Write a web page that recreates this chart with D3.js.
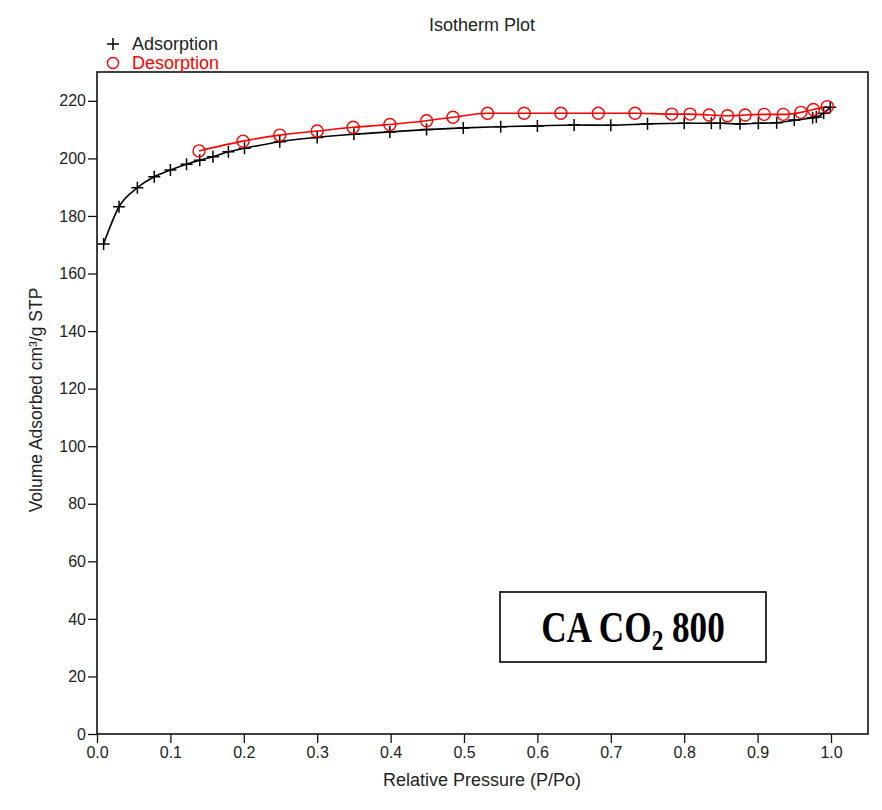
<!DOCTYPE html>
<html>
<head>
<meta charset="utf-8">
<script src="https://cdn.jsdelivr.net/npm/d3@7"></script>
<style>
  body { margin: 0; background: #fff; }
  text { font-family: "Liberation Sans", Arial, sans-serif; }
</style>
</head>
<body>
<div id="container"></div>
<script>
// Adsorption branch (P/Po, volume)
const adsP = [0.009, 0.030, 0.055, 0.078, 0.100, 0.122, 0.140, 0.158, 0.179, 0.201,
              0.249, 0.300, 0.350, 0.399, 0.449, 0.499, 0.550, 0.600, 0.650, 0.700,
              0.750, 0.800, 0.837, 0.849, 0.876, 0.901, 0.926, 0.950, 0.975, 0.980,
              0.990, 0.999];
const adsV = [170.3, 183.2, 189.8, 193.6, 196.0, 198.0, 199.4, 200.6, 202.3, 203.5,
              205.8, 207.3, 208.4, 209.2, 210.0, 210.6, 211.0, 211.3, 211.6, 211.5,
              212.0, 212.2, 212.2, 212.2, 212.0, 212.2, 212.4, 213.3, 214.1, 214.4,
              215.7, 217.8];
// Desorption branch
const desP = [0.995, 0.976, 0.959, 0.935, 0.909, 0.883, 0.859, 0.834, 0.808, 0.783,
              0.733, 0.683, 0.632, 0.582, 0.532, 0.485, 0.449, 0.399, 0.349, 0.300,
              0.249, 0.199, 0.139];
const desV = [218.0, 217.0, 216.0, 215.3, 215.3, 215.1, 214.8, 215.1, 215.4, 215.4,
              215.7, 215.7, 215.7, 215.7, 215.7, 214.3, 213.1, 211.8, 210.8, 209.5,
              208.1, 206.0, 202.6];
const xTicks = [0, 0.1, 0.2, 0.3, 0.4, 0.5, 0.6, 0.7, 0.8, 0.9, 1.0];
const yTicks = [0, 20, 40, 60, 80, 100, 120, 140, 160, 180, 200, 220];

const w = 882, h = 810;
const plotLeft = 97, plotRight = 868, plotTop = 72, plotBottom = 734;

const svg = d3.select("#container").append("svg")
  .attr("width", w).attr("height", h);

//SCALES
const xScale = d3.scaleLinear().domain([0, 1.05]).range([plotLeft, plotLeft + 734 * 1.05]);
const yScale = d3.scaleLinear().domain([0, 230]).range([plotBottom, plotBottom - 230 * 2.878]);

//AXES
const xAxis = svg.append("g")
  .attr("transform", `translate(0, ${plotBottom})`)
  .call(d3.axisBottom(xScale).tickValues(xTicks).tickFormat(d3.format(".1f")).tickSize(9).tickPadding(4));
const yAxis = svg.append("g")
  .attr("transform", `translate(${plotLeft}, 0)`)
  .call(d3.axisLeft(yScale).tickValues(yTicks).tickSize(9).tickPadding(2));

[xAxis, yAxis].forEach(a => {
  a.select(".domain").remove();
  a.selectAll("line").attr("stroke", "#111").attr("stroke-width", 1.3);
  a.selectAll("text").attr("font-size", 16).attr("fill", "#222")
   .style("font-family", "'Liberation Sans', Arial, sans-serif");
});

//FRAME
svg.append("rect")
  .attr("x", plotLeft).attr("y", plotTop)
  .attr("width", plotRight - plotLeft).attr("height", plotBottom - plotTop)
  .attr("fill", "none").attr("stroke", "#111").attr("stroke-width", 1.6);

//LINES
const ads = adsP.map((p, i) => [p, adsV[i]]);
const des = desP.map((p, i) => [p, desV[i]]);
const line = d3.line().x(d => xScale(d[0])).y(d => yScale(d[1])).curve(d3.curveMonotoneX);

svg.append("path").datum(ads).attr("d", line)
  .attr("fill", "none").attr("stroke", "#000").attr("stroke-width", 1.6);
svg.append("path").datum(des.slice().sort((a, b) => a[0] - b[0])).attr("d", line)
  .attr("fill", "none").attr("stroke", "#ff0000").attr("stroke-width", 1.6);

//MARKERS
const s = 6;
svg.append("g").selectAll("path").data(ads).enter().append("path")
  .attr("d", d => {
    const cx = xScale(d[0]), cy = yScale(d[1]);
    return `M${cx - s},${cy}H${cx + s}M${cx},${cy - s}V${cy + s}`;
  })
  .attr("stroke", "#000").attr("stroke-width", 1.5);

svg.append("g").selectAll("circle").data(des).enter().append("circle")
  .attr("cx", d => xScale(d[0])).attr("cy", d => yScale(d[1]))
  .attr("r", 6).attr("fill", "none").attr("stroke", "#ff0000").attr("stroke-width", 1.4);

//TITLES
svg.append("text").text("Isotherm Plot")
  .attr("x", 482).attr("y", 31).attr("text-anchor", "middle")
  .attr("font-size", 18).attr("fill", "#222");

svg.append("text").text("Relative Pressure (P/Po)")
  .attr("x", 482).attr("y", 786).attr("text-anchor", "middle")
  .attr("font-size", 18).attr("fill", "#222");

svg.append("text")
  .attr("transform", "translate(42, 400) rotate(-90)")
  .attr("text-anchor", "middle").attr("font-size", 17.5).attr("fill", "#222")
  .text("Volume Adsorbed cm³/g STP");

//LEGEND
const legend = svg.append("g");
legend.append("path")
  .attr("d", "M107,44H119M113,38V50")
  .attr("stroke", "#000").attr("stroke-width", 1.5);
legend.append("text").text("Adsorption")
  .attr("x", 132).attr("y", 50).attr("font-size", 18).attr("fill", "#222");
legend.append("circle")
  .attr("cx", 113).attr("cy", 63).attr("r", 5.5)
  .attr("fill", "none").attr("stroke", "#ff0000").attr("stroke-width", 1.4);
legend.append("text").text("Desorption")
  .attr("x", 132).attr("y", 69).attr("font-size", 18).attr("fill", "#ff0000");

//SAMPLE LABEL BOX
svg.append("rect")
  .attr("x", 500).attr("y", 592).attr("width", 266).attr("height", 70)
  .attr("fill", "#fff").attr("stroke", "#000").attr("stroke-width", 1.6);
const lbl = svg.append("text")
  .attr("transform", "translate(633, 642) scale(0.8, 1)")
  .attr("text-anchor", "middle")
  .attr("font-size", 44).attr("font-weight", "bold")
  .style("font-family", "'Liberation Serif', 'Times New Roman', serif");
lbl.append("tspan").text("CA CO");
lbl.append("tspan").text("2").attr("font-size", 29).attr("dy", 8);
lbl.append("tspan").text(" 800").attr("dy", -8);
</script>
</body>
</html>
